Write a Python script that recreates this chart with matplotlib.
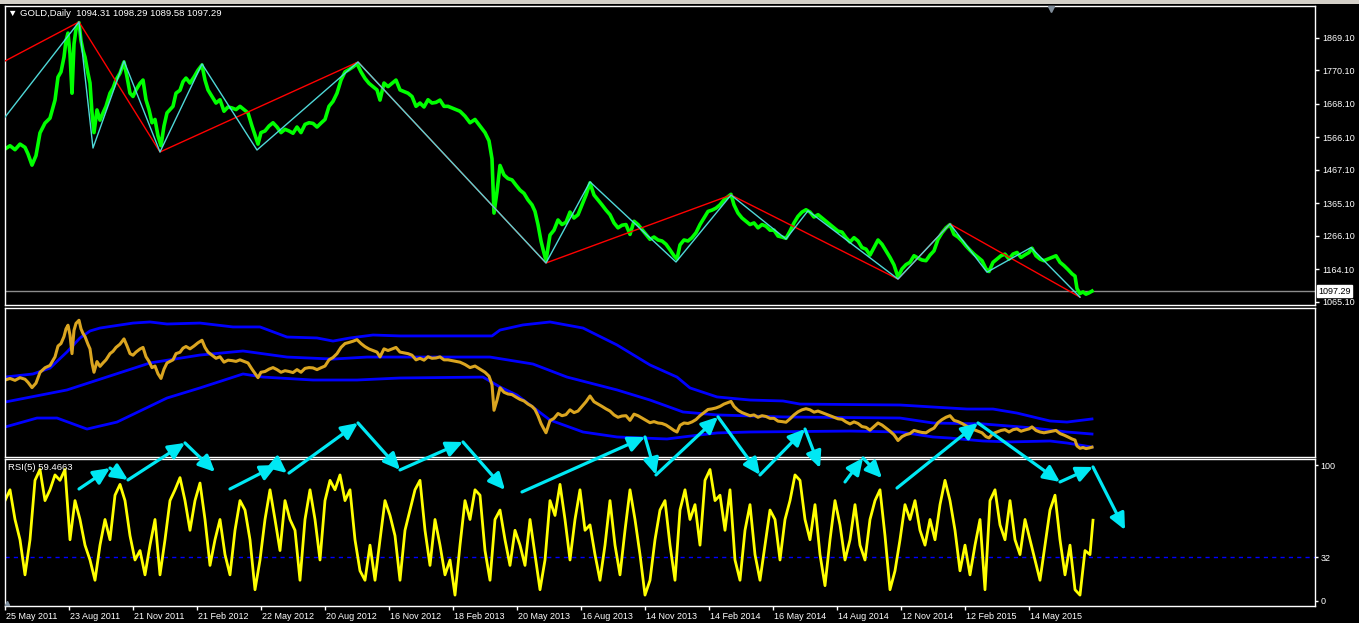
import matplotlib
matplotlib.use('Agg')
import matplotlib.pyplot as plt
from matplotlib.patches import Rectangle
from matplotlib.lines import Line2D
import matplotlib.transforms as mtrans

# ---------------- data (bar index = day position on chart) ----------------
price_points = [
    (5,1530),(10,1540),(15,1528),(20,1545),(25,1535),(28,1515),(32,1481),(36,1510),(40,1579),(45,1609),
    (50,1624),(55,1679),(58,1749),(61,1765),(64,1810),(66,1860),(68,1883),(70,1820),(72,1700),(74,1850),
    (76,1895),(79,1915),(81,1860),(83,1830),(85,1810),(88,1760),(90,1731),(92,1640),(94,1580),(97,1649),
    (100,1618),(103,1640),(106,1660),(110,1700),(113,1715),(116,1740),(120,1761),(124,1795),(127,1750),(130,1700),
    (133,1690),(136,1710),(140,1730),(143,1740),(146,1680),(149,1650),(152,1610),(155,1620),(158,1570),(161,1540),
    (164,1600),(167,1640),(170,1650),(173,1660),(176,1700),(180,1709),(183,1735),(186,1746),(190,1731),(194,1749),
    (198,1770),(202,1786),(205,1740),(208,1710),(212,1690),(216,1670),(220,1680),(224,1645),(228,1658),(232,1655),
    (236,1650),(240,1660),(244,1650),(248,1640),(252,1600),(255,1572),(258,1545),(261,1580),(265,1585),(269,1600),
    (273,1610),(277,1597),(281,1580),(285,1590),(289,1585),(293,1578),(297,1597),(301,1580),(305,1605),(309,1610),
    (313,1608),(317,1597),(321,1609),(325,1620),(329,1660),(333,1675),(337,1700),(341,1740),(345,1765),(349,1772),
    (353,1780),(357,1790),(361,1765),(365,1745),(369,1730),(373,1720),(377,1710),(380,1679),(384,1731),(388,1720),
    (392,1730),(396,1740),(400,1710),(404,1705),(408,1700),(412,1690),(416,1660),(420,1670),(424,1658),(428,1680),
    (432,1670),(436,1672),(440,1679),(444,1660),(448,1660),
    (452,1655),(456,1650),(460,1645),(465,1630),(470,1610),(475,1620),(480,1600),(485,1580),(489,1555),(492,1500),
    (494,1335),(497,1400),(500,1480),(504,1451),(508,1440),(512,1436),(516,1420),(520,1405),(524,1395),(528,1375),
    (532,1360),(535,1340),(538,1300),(541,1250),(543,1225),(546,1190),(550,1268),(554,1283),(558,1314),(562,1300),
    (566,1307),(570,1338),(574,1320),(578,1330),(582,1360),(586,1390),(590,1427),(594,1390),(598,1375),(602,1360),
    (606,1344),(610,1330),(614,1305),(618,1290),(622,1298),(626,1300),(630,1270),(634,1310),(638,1300),(642,1285),
    (646,1270),(650,1255),(654,1262),(658,1253),(662,1250),(666,1240),(670,1223),(674,1205),(677,1195),(680,1238),
    (684,1253),(688,1250),(692,1260),(696,1275),(700,1300),(704,1320),(708,1340),(712,1344),(716,1350),(720,1360),
    (724,1375),(728,1385),(731,1392),(734,1360),(738,1335),(742,1320),(746,1310),(750,1300),(754,1305),(758,1290),
    (762,1300),(766,1295),(770,1283),(774,1283),(778,1265),(782,1262),(786,1258),(790,1280),(794,1305),(798,1325),
    (802,1338),(806,1345),(810,1338),(814,1323),(818,1330),(822,1320),(826,1310),(830,1300),(834,1290),(838,1280),
    (842,1277),(846,1260),(850,1247),(854,1260),(858,1250),(862,1230),(866,1225),(870,1207),(874,1230),(878,1253),
    (882,1240),(886,1220),(890,1200),(894,1177),(898,1140),(902,1165),(906,1178),(910,1185),(914,1205),(918,1198),
    (922,1192),(926,1190),(930,1207),(934,1220),(938,1255),(942,1275),(946,1290),(950,1300),(954,1270),(958,1262),
    (962,1250),(966,1235),(970,1222),(974,1210),(978,1200),(982,1190),(986,1165),(989,1157),(993,1185),(997,1195),
    (1001,1205),(1005,1210),(1009,1195),(1013,1210),(1017,1215),(1021,1200),(1025,1208),(1029,1215),(1032,1228),(1036,1205),
    (1040,1195),(1044,1190),(1048,1195),(1052,1200),(1056,1205),(1060,1185),(1064,1175),(1068,1163),(1072,1150),(1075,1143),
    (1077,1105),(1080,1090),(1083,1095),(1086,1088),(1089,1092),(1092,1097.29),
]
price_bar = [p[0] for p in price_points]
price_close = [p[1] for p in price_points]

zigzag_red = [(5,1798),(79,1917),(160,1521),(358,1795),(546,1183),(731,1390),(898,1134),(950,1302),(1080,1079)]
zigzag_cyan = [(5,1627),(79,1917),(93,1533),(124,1798),(160,1521),(202,1789),(257,1527),(358,1795),
               (546,1183),(590,1430),(676,1186),(731,1390),(786,1256),(808,1342),(898,1134),(950,1302),
               (987,1155),(1031,1230),(1080,1079)]

band_upper = [(5,1549),(33,1569),(50,1607),(67,1711),(80,1801),(90,1846),(100,1865),(133,1897),(150,1904),
              (167,1891),(200,1897),(233,1872),(260,1872),(287,1807),(317,1801),(333,1781),(350,1801),(373,1820),
              (400,1814),(492,1814),(500,1852),(523,1885),(550,1904),(583,1865),(617,1756),(650,1627),(677,1549),
              (690,1479),(717,1421),(750,1401),(783,1395),(800,1375),(900,1369),(933,1356),(967,1343),(993,1343),
              (1017,1317),(1050,1266),(1067,1259),(1092,1279)]
band_middle = [(5,1388),(67,1466),(150,1640),(200,1691),(243,1717),(287,1678),(333,1665),(367,1678),(490,1678),
               (533,1633),(567,1549),(617,1466),(650,1401),(683,1324),(717,1305),(783,1292),(900,1285),(933,1253),
               (983,1247),(1033,1221),(1067,1195),(1092,1182)]
band_lower = [(5,1227),(37,1285),(57,1285),(87,1214),(117,1259),(167,1414),(200,1479),(243,1569),(263,1549),
              (313,1530),(357,1530),(400,1543),(483,1549),(500,1485),(517,1433),(550,1272),(583,1195),(617,1163),
              (667,1150),(683,1163),(717,1189),(750,1195),(850,1201),(900,1195),(933,1163),(950,1156),(983,1137),
              (1010,1131),(1050,1137),(1067,1124),(1092,1098)]

rsi_points = [
    (5,74),(10,82),(15,60),(20,45),(25,19),(30,45),(35,89),(40,97),(45,74),(50,82),(55,93),(60,89),(65,97),(70,45),
    (75,74),(80,60),(85,41),(90,30),(95,15),(100,41),(105,60),(110,45),(115,78),(120,86),(125,74),(130,48),(135,30),
    (140,37),(145,19),(150,41),(155,60),(160,19),(165,45),(170,74),(175,82),(180,91),(185,74),(190,52),(195,74),
    (200,87),(205,60),(210,26),(215,45),(220,60),(225,34),(230,19),(235,52),(240,74),(245,67),(250,45),(255,8),
    (260,30),(265,60),(270,82),(275,60),(280,37),(285,74),(290,60),(295,52),(300,15),(305,60),(310,82),(315,60),
    (320,30),(325,74),(330,89),(335,82),(340,93),(345,74),(350,82),(355,45),(360,22),(365,15),(370,41),(375,15),
    (380,45),(385,74),(390,63),(395,48),(400,15),(405,52),(410,67),(415,82),(420,89),(425,52),(430,26),(435,60),
    (440,41),(445,19),(450,30),(455,4),(460,41),(465,74),(470,60),(475,82),(480,78),(485,37),(490,15),(495,60),
    (500,67),(505,45),(510,26),(515,52),(520,41),(525,26),(530,60),(535,34),(540,8),(545,30),(550,74),(555,63),
    (560,86),(565,60),(570,30),(575,60),(580,82),(585,52),(590,56),(595,34),(600,15),(605,41),(610,74),(615,41),
    (620,19),(625,52),(630,82),(635,60),(640,34),(645,4),(650,15),(655,45),(660,67),(665,74),(670,41),(675,15),
    (680,67),(685,82),(690,60),(695,71),(700,41),(705,89),(710,97),(715,74),(720,78),(725,52),(730,82),(735,30),
    (740,15),(745,52),(750,71),(755,34),(760,15),(765,41),(770,67),(775,60),(780,30),(785,60),(790,74),(795,93),
    (800,89),(805,60),(810,45),(815,71),(820,34),(825,11),(830,45),(835,74),(840,56),(845,30),(850,45),(855,71),
    (860,41),(865,30),(870,60),(875,74),(880,82),(885,48),(890,8),(895,22),(900,45),(905,71),(910,60),(915,74),
    (920,52),(925,41),(930,60),(935,45),(940,71),(945,89),(950,74),(955,52),(960,22),(965,41),(970,19),(975,41),
    (980,60),(985,8),(990,74),(995,82),(1000,56),(1005,45),(1010,74),(1015,45),(1020,34),(1025,60),(1030,45),
    (1035,30),(1040,15),(1045,41),(1050,67),(1055,78),(1060,45),(1065,19),(1070,41),(1075,8),(1080,4),(1085,37),
    (1090,34),(1093,59.47),
]
rsi_bar = [p[0] for p in rsi_points]
rsi_value = [p[1] for p in rsi_points]

# arrows drawn in the RSI window: (bar0, rsi0, bar1, rsi1)
rsi_arrows = [
    (79,82.6,110,98.1),(110,98.1,128,89.3),(128,89.3,185,116.7),(185,116.7,215,95.2),
    (230,82.6,277,100.4),(277,100.4,287,94.4),(289,94.4,358,131.5),(358,131.5,400,96.7),
    (400,96.7,463,117.4),(463,117.4,505,81.9),(522,80.4,645,121.1),(645,121.1,656,93.0),
    (656,93.0,718,136.0),(718,136.0,760,93.0),(760,93.0,805,127.0),(805,127.0,820,98.1),
    (845,87.8,863,105.6),(863,105.6,882,90.7),(897,83.3,978,131.5),(978,131.5,1060,87.8),
    (1060,87.8,1093,98.9),(1093,98.9,1125,52.2),
]

price_ticks = [1869.10, 1770.10, 1668.10, 1566.10, 1467.10, 1365.10, 1266.10, 1164.10, 1065.10]
rsi_ticks = [100, 32, 0]
date_labels = ['25 May 2011', '23 Aug 2011', '21 Nov 2011', '21 Feb 2012', '22 May 2012', '20 Aug 2012',
               '16 Nov 2012', '18 Feb 2013', '20 May 2013', '16 Aug 2013', '14 Nov 2013', '14 Feb 2014',
               '16 May 2014', '14 Aug 2014', '12 Nov 2014', '12 Feb 2015', '14 May 2015']
date_bars = [5, 69, 133, 197, 261, 325, 389, 453, 517, 581, 645, 709, 773, 837, 901, 965, 1029]
last_price = 1097.29
title_text = '\u25BC GOLD,Daily  1094.31 1098.29 1089.58 1097.29'
rsi_title = 'RSI(5) 59.4663'

# ---------------- figure ----------------
FONT = ['Liberation Sans', 'DejaVu Sans']
plt.rcParams['font.family'] = FONT
W, H = 1359, 623
fig = plt.figure(figsize=(W / 100, H / 100), dpi=100, facecolor='black')


def panel(top, bottom):
    return fig.add_axes([5 / W, 1 - bottom / H, 1310 / W, (bottom - top) / H])


GREEN = '#00ff00'
RED = '#ff0000'
ZCYAN = '#4fd8d8'
ACYAN = '#00e8f4'
BLUE = '#0000ff'
ORANGE = '#daa520'
YELLOW = '#ffff00'

ax1 = panel(6, 305)
ax2 = panel(307.5, 456.5)
ax3 = panel(459, 605.5)

for ax in (ax1, ax2, ax3):
    ax.set_facecolor('black')
    ax.set_xlim(5, 1315)
    for s in ax.spines.values():
        s.set_color('white')
        s.set_linewidth(1)
    ax.tick_params(colors='white', labelcolor='white', labelsize=6.5, length=3, width=1, pad=2)
    ax.set_xticks([])

# top price panel
ax1.set_ylim(1055.05, 1965.5)
ax1.axhline(last_price, color='#8c8c8c', lw=1, zorder=1)
ax1.plot(price_bar, price_close, color=GREEN, lw=2.6, zorder=2)
ax1.plot([p[0] for p in zigzag_red], [p[1] for p in zigzag_red], color=RED, lw=1, zorder=3)
ax1.plot([p[0] for p in zigzag_cyan], [p[1] for p in zigzag_cyan], color=ZCYAN, lw=1, zorder=3)
ax1.yaxis.tick_right()
ax1.set_yticks(price_ticks)
ax1.set_yticklabels(['%.2f' % v for v in price_ticks])
ax1.text(1.0025, last_price, '%.2f' % last_price,
         transform=mtrans.blended_transform_factory(ax1.transAxes, ax1.transData),
         ha='left', va='center', color='black', fontsize=6.5,
         bbox=dict(boxstyle='square,pad=0.15', facecolor='white', edgecolor='white'), zorder=10, clip_on=False)

# middle panel (price with bands)
ax2.set_ylim(1037.1, 1997.3)
ax2.set_yticks([])
ax2.plot([p[0] for p in band_upper], [p[1] for p in band_upper], color=BLUE, lw=2)
ax2.plot([p[0] for p in band_middle], [p[1] for p in band_middle], color=BLUE, lw=2)
ax2.plot([p[0] for p in band_lower], [p[1] for p in band_lower], color=BLUE, lw=2)
ax2.plot(price_bar, price_close, color=ORANGE, lw=2.2)

# RSI panel
ax3.set_ylim(-3.7, 104.8)
ax3.axhline(32, color=BLUE, lw=1, ls=(0, (3, 3)))
ax3.plot(rsi_bar, rsi_value, color=YELLOW, lw=2)
ax3.yaxis.tick_right()
ax3.set_yticks(rsi_ticks)
ax3.set_yticklabels([str(v) for v in rsi_ticks])
ax3.tick_params(axis='y', length=2)
ax3.set_xticks(date_bars)
ax3.set_xticklabels(date_labels, ha='left')
ax3.tick_params(axis='x', length=3, pad=1.5)
for lab in ax3.get_xticklabels():
    lab.set_transform(lab.get_transform() + mtrans.ScaledTranslation(1.5 / 100, 0, fig.dpi_scale_trans))

for x0, y0, x1, y1 in rsi_arrows:
    ax3.annotate('', xy=(x1, y1), xytext=(x0, y0), annotation_clip=False,
                 arrowprops=dict(arrowstyle='-|>,head_length=0.9,head_width=0.42', color=ACYAN, lw=2.3,
                                 mutation_scale=11, shrinkA=0, shrinkB=0), zorder=6)

# titles
fig.text(8 / W, 1 - 14 / H, title_text, color='white', fontsize=6.8, va='center', ha='left')
fig.text(8 / W, 1 - 467 / H, rsi_title, color='white', fontsize=6.8, va='center', ha='left')

# window chrome and small markers
fig.patches.append(Rectangle((0, 1 - 4 / H), 1, 4 / H, transform=fig.transFigure, facecolor='#d4d0c8',
                             edgecolor='none', zorder=0))
fig.add_artist(Line2D([1051 / W], [1 - 9 / H], marker='v', ms=5, color='#7f8c99', ls='none',
                      transform=fig.transFigure))
fig.add_artist(Line2D([7 / W], [1 - 603 / H], marker='^', ms=3, color='#8090a0', ls='none',
                      transform=fig.transFigure))

fig.savefig('out.png', dpi=100, facecolor='black')
